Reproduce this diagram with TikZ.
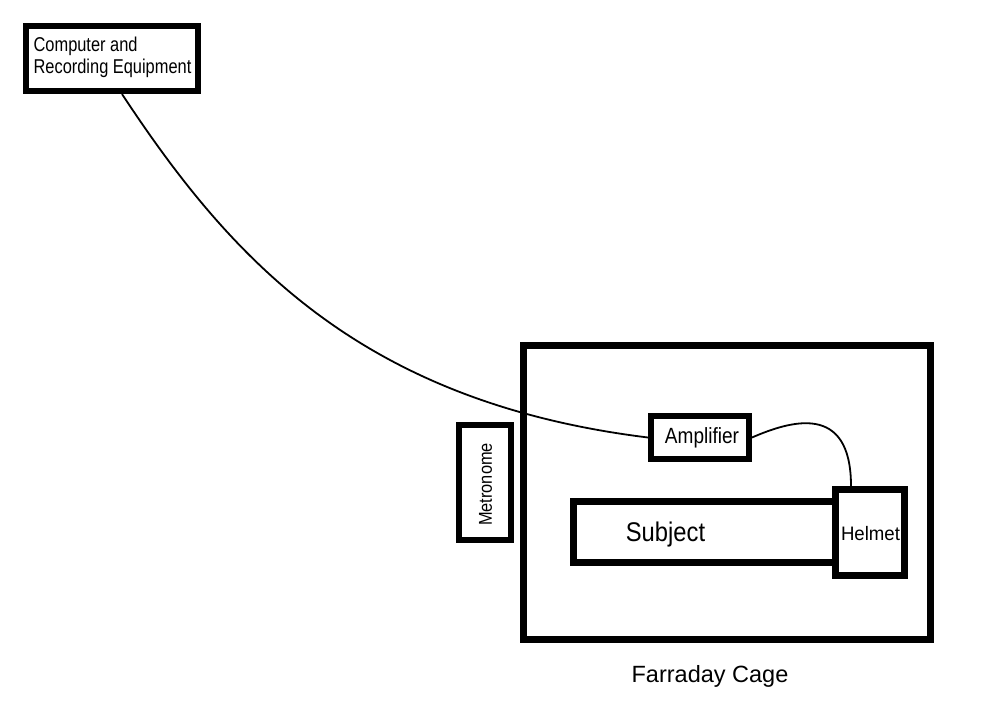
\documentclass[tikz,border=0pt]{standalone}
\usepackage{fontspec}
\usepackage{graphicx}
\setmainfont{Liberation Sans}
\begin{document}
\begin{tikzpicture}[x=1pt,y=-1pt,
  box/.style={draw=black,fill=white,rectangle,inner sep=0pt,line join=miter},
  wire/.style={draw=black,line width=1.8pt},
  lbl/.style={inner sep=0pt,align=left}]
\useasboundingbox (0,0) rectangle (986,707);
% Farraday cage
\node[box,line width=7pt,minimum width=407pt,minimum height=294pt] (cage) at (727,492.5) {};
\node[lbl,font=\fontsize{23.5}{26}\selectfont] (cagelbl) at (710,676) {Farraday Cage};
% Computer
\node[box,line width=6pt,minimum width=172pt,minimum height=65pt] (comp) at (112,58.5) {};
\node[lbl,font=\fontsize{20}{23}\selectfont] (comptxt) at (112.5,57.5)
  {\scalebox{0.82}[1]{\begin{tabular}{@{}l@{}}Computer and\\[-1pt]Recording Equipment\end{tabular}}};
% Metronome
\node[box,line width=6pt,minimum width=52pt,minimum height=115pt] (metro) at (485,482.5) {};
\node[lbl,rotate=90,font=\fontsize{18.6}{20}\selectfont] (metrotxt) at (485.5,484.5) {\scalebox{0.88}[1]{Metronome}};
% Amplifier
\node[box,line width=6pt,minimum width=98pt,minimum height=43pt] (amp) at (700,437.5) {};
\node[lbl,font=\fontsize{22}{24}\selectfont] (amptxt) at (702,438) {\scalebox{0.865}[1]{Amplifier}};
% Subject
\node[box,line width=7pt,minimum width=261.5pt,minimum height=61pt] (subj) at (704.25,532) {};
\node[lbl,font=\fontsize{27}{30}\selectfont] (subjtxt) at (665.5,534.5) {\scalebox{0.88}[1]{Subject}};
% Helmet
\node[box,line width=7pt,minimum width=69pt,minimum height=86pt] (helm) at (870,532.5) {};
\node[lbl,font=\fontsize{19.5}{22}\selectfont] (helmtxt) at (870.5,533.5) {\scalebox{0.955}[1]{Helmet}};
% wires
\coordinate (cstart) at ([xshift=10pt]comp.south);
\coordinate (hend) at ([xshift=-19pt]helm.north);
\draw[wire] (cstart) .. controls (230,258) and (360,402) .. (amp.west);
\draw[wire] (amp.east) .. controls (790,421) and (851,402) .. (hend);
\end{tikzpicture}
\end{document}
